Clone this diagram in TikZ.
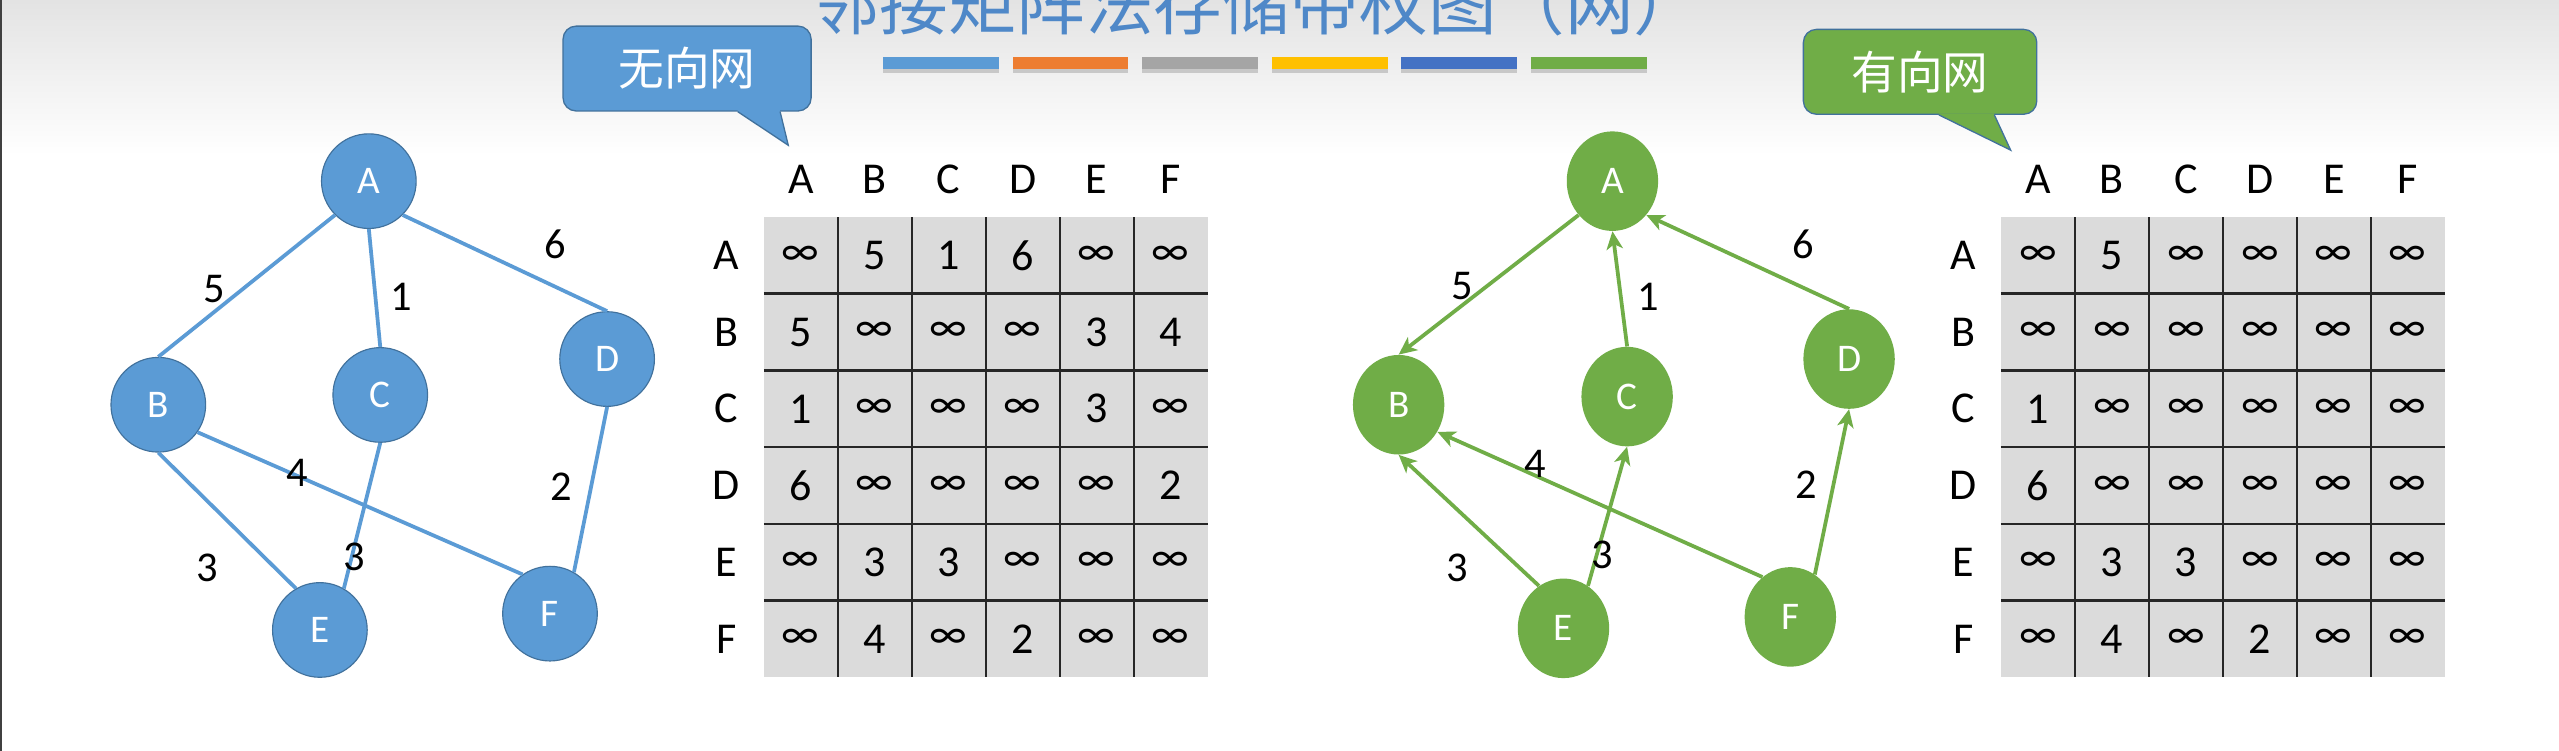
\documentclass[tikz,border=0pt]{standalone}
\usepackage{fontspec}
\setmainfont{Carlito}
\newfontfamily\cjk{Noto Sans CJK SC}
\usetikzlibrary{arrows.meta, shapes.geometric, shadows}

\definecolor{netblue}{HTML}{5B9BD5}
\definecolor{netblueline}{HTML}{41719C}
\definecolor{netgreen}{HTML}{70AD47}
\definecolor{netorange}{HTML}{ED7D31}
\definecolor{netgray}{HTML}{A5A5A5}
\definecolor{netgold}{HTML}{FFC000}
\definecolor{netnavy}{HTML}{4472C4}
\definecolor{cellgray}{HTML}{DBDBDB}
\definecolor{titleblue}{HTML}{4F88C8}

\newcommand\noedge{∞}

\tikzset{
  vertex/.style={inner sep=0pt, text=white, font=\fontsize{24}{24}\selectfont},
  uvertex/.style={vertex, circle, minimum size=58pt, fill=netblue, draw=netblueline, line width=0.7pt},
  dvertex/.style={vertex, ellipse, minimum width=56pt, minimum height=61pt, fill=netgreen},
  uedge/.style={netblue, line width=2.3pt},
  dedge/.style={netgreen, line width=2.3pt, -{Stealth[length=11pt, width=10pt, inset=3pt]}},
  weight/.style={font=\fontsize{26}{26}\selectfont},
  head/.style={font=\fontsize{27}{27}\selectfont},
  cell/.style={font=\fontsize{27}{27}\selectfont},
  bubble/.style={draw=netblueline, line width=0.8pt, rounded corners=8pt, text=white,
    font=\cjk\fontsize{28}{28}\selectfont},
}

\begin{document}
\begin{tikzpicture}[x=1pt, y=-1pt]
\def\cellw{45.33}
\def\cellh{47}

    \useasboundingbox (0,0) rectangle (1568,460);
    \clip (0,0) rectangle (1568,460);
    \fill[white] (0,0) rectangle (1568,460);
    \fill[top color=black!11, bottom color=white] (0,0) rectangle (1568,95);
    \draw[line width=1.5pt, black!75] (0.75,0) -- (0.75,460);

    %Title and colour bars
    \node[anchor=base, text=titleblue, font=\cjk\fontsize{42}{42}\selectfont] (title) at (770,18) {邻接矩阵法存储带权图（网）};
    \foreach \c [count=\i] in {netblue, netorange, netgray, netgold, netnavy, netgreen}
        \fill[\c, drop shadow={shadow xshift=0pt, shadow yshift=-3pt, opacity=0.35}] (541+79.4*\i-79.4,35) rectangle ++(71,7);

    %Bubbles
    \node[bubble, fill=netblue, minimum width=152pt, minimum height=52pt] (undir) at (421,42) {无向网};
    \coordinate (undir tip) at (483,89);
    \fill[netblue] ([xshift=31pt]undir.south) -- (undir tip) -- ([xshift=57pt]undir.south) -- ([xshift=57pt, yshift=1pt]undir.south) -- ([xshift=31pt, yshift=1pt]undir.south) -- cycle;
    \draw[netblueline, line width=0.8pt] ([xshift=31pt]undir.south) -- (undir tip) -- ([xshift=57pt]undir.south);
    \node[bubble, fill=netgreen, minimum width=143pt, minimum height=52pt] (dir) at (1176.5,44) {有向网};
    \coordinate (dir tip) at (1232,92);
    \fill[netgreen] ([xshift=11.5pt]dir.south) -- (dir tip) -- ([xshift=45.5pt]dir.south) -- ([xshift=45.5pt, yshift=1pt]dir.south) -- ([xshift=11.5pt, yshift=1pt]dir.south) -- cycle;
    \draw[netblueline, line width=0.8pt] ([xshift=11.5pt]dir.south) -- (dir tip) -- ([xshift=45.5pt]dir.south);

    %Undirected net
    \node[uvertex] (uA) at (226,111) {A};
    \node[uvertex] (uB) at (97,248) {B};
    \node[uvertex] (uC) at (233,242) {C};
    \node[uvertex] (uD) at (372,220) {D};
    \node[uvertex] (uE) at (196,386) {E};
    \node[uvertex] (uF) at (337,376) {F};
    \draw[uedge] (uA.225) -- (uB.north);
    \draw[uedge] (uA.south) -- (uC.north);
    \draw[uedge] (uA.-45) -- (uD.north);
    \draw[uedge] (uB.south) -- (uE.120);
    \draw[uedge] (uC.south) -- (uE.60);
    \draw[uedge] (uB.-35) -- (uF.125);
    \draw[uedge] (uD.south) -- (uF.60);
    \foreach \n/\x/\y/\w in {ab/131/177/5, ac/246/182/1, ad/340/150/6, bf/182/290/4, df/344/298/2, be/127/348/3, ce/217/341/3}
        \node[weight] (uw-\n) at (\x,\y) {\w};

    %Directed net
    \node[dvertex] (dA) at (988,111) {A};
    \node[dvertex] (dB) at (857,248) {B};
    \node[dvertex] (dC) at (997,243) {C};
    \node[dvertex] (dD) at (1133,220) {D};
    \node[dvertex] (dE) at (958,385) {E};
    \node[dvertex] (dF) at (1097,378) {F};
    \draw[dedge] (dA.225) -- (dB.north);
    \draw[dedge] (dC.north) -- (dA.south);
    \draw[dedge] (dD.north) -- (dA.-45);
    \draw[dedge] (dE.120) -- (dB.south);
    \draw[dedge] (dE.60) -- (dC.south);
    \draw[dedge] (dF.125) -- (dB.-35);
    \draw[dedge] (dF.60) -- (dD.south);
    \foreach \n/\x/\y/\w in {ab/896/175/5, ca/1010/182/1, da/1105/150/6, fb/941/284/4, fd/1107/297/2, eb/893/348/3, ec/982/340/3}
        \node[weight] (dw-\n) at (\x,\y) {\w};

    %Matrices
    \foreach \m/\x in {u/468, d/1226} {
        \fill[cellgray] (\x,133) rectangle ++(272,282);
        \foreach \k in {1,...,5} {
            \draw[line width=1pt, black!85] (\x+\k*\cellw,133) -- ++(0,282);
            \draw[line width=1.6pt, black!85] (\x,133+\k*\cellh) -- ++(272,0);
        }
        \foreach \v [count=\i] in {A,...,F} {
            \node[head] (\m c-\v) at (\x+\i*\cellw-0.5*\cellw,110) {\v};
            \node[head] (\m r-\v) at (\x-23,133+\i*\cellh-0.5*\cellh) {\v};
        }
    }
    \foreach \row [count=\r] in {{\noedge,5,1,6,\noedge,\noedge}, {5,\noedge,\noedge,\noedge,3,4}, {1,\noedge,\noedge,\noedge,3,\noedge},
        {6,\noedge,\noedge,\noedge,\noedge,2}, {\noedge,3,3,\noedge,\noedge,\noedge}, {\noedge,4,\noedge,2,\noedge,\noedge}}
        \foreach \val [count=\c] in \row
            \node[cell] (u-\r-\c) at (468+\c*\cellw-0.5*\cellw,133+\r*\cellh-0.5*\cellh) {\val};
    \foreach \row [count=\r] in {{\noedge,5,\noedge,\noedge,\noedge,\noedge}, {\noedge,\noedge,\noedge,\noedge,\noedge,\noedge}, {1,\noedge,\noedge,\noedge,\noedge,\noedge},
        {6,\noedge,\noedge,\noedge,\noedge,\noedge}, {\noedge,3,3,\noedge,\noedge,\noedge}, {\noedge,4,\noedge,2,\noedge,\noedge}}
        \foreach \val [count=\c] in \row
            \node[cell] (d-\r-\c) at (1226+\c*\cellw-0.5*\cellw,133+\r*\cellh-0.5*\cellh) {\val};
\end{tikzpicture}
\end{document}
